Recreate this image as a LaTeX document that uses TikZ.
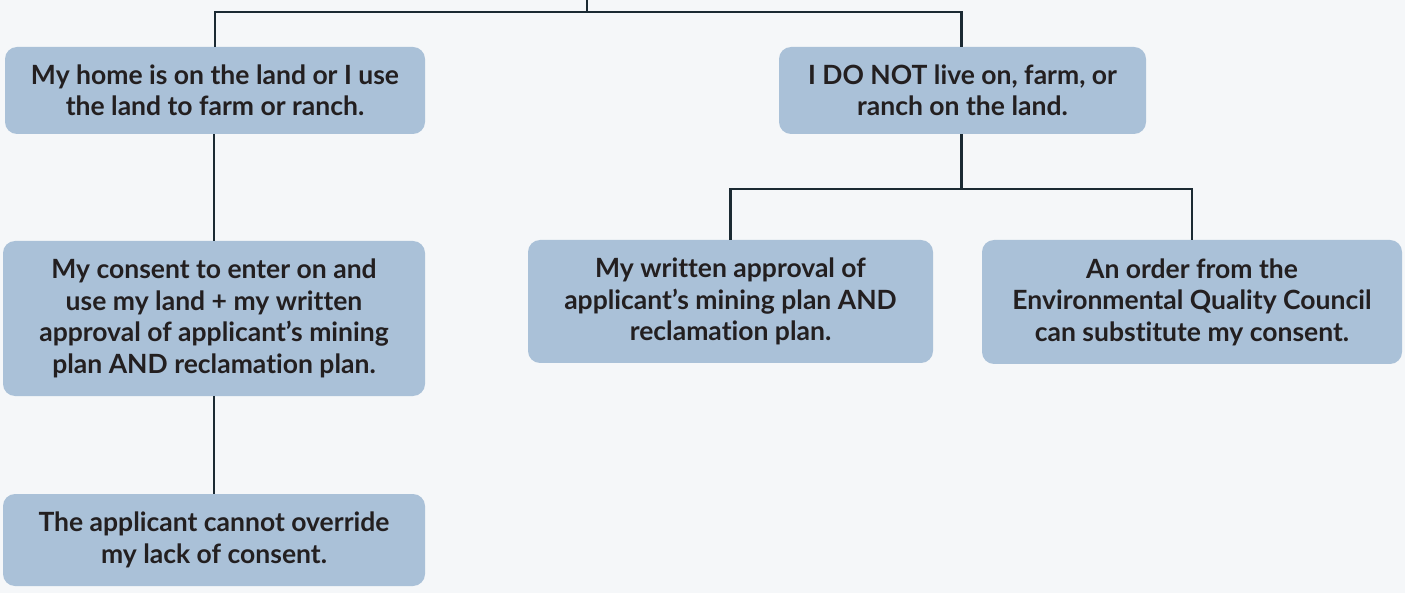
\documentclass[tikz,border=0pt]{standalone}
\usepackage{fontspec}
\setmainfont{Lato}[Ligatures={NoCommon}]
\definecolor{bg}{HTML}{F5F7F9}
\definecolor{boxfill}{HTML}{AAC1D8}
\definecolor{linec}{HTML}{1B2A33}
\definecolor{txt}{HTML}{231F20}
\begin{document}
\begin{tikzpicture}[x=1pt,y=-1pt,
  box/.style={fill=boxfill, rounded corners=12pt, inner sep=0pt, align=center,
    text=txt, font=\fontsize{26.5}{31.5}\selectfont\bfseries},
  conn/.style={draw=linec, line width=2.4pt}]
\fill[bg] (0,0) rectangle (1405,593);
\useasboundingbox (0,0) rectangle (1405,593);
\node[box, minimum width=420pt, minimum height=87pt] (A) at (215,90.5)
  {My home is on the land or I use\\the land to farm or ranch.};
\node[box, minimum width=367pt, minimum height=87pt] (B) at (962.5,90.5)
  {I DO NOT live on, farm, or\\ranch on the land.};
\node[box, minimum width=422pt, minimum height=155pt] (C) at (214,318.5)
  {My consent to enter on and\\use my land + my written\\approval of applicant’s mining\\plan AND reclamation plan.};
\node[box, minimum width=422pt, minimum height=92pt] (D) at (214,540)
  {The applicant cannot override\\my lack of consent.};
\node[box, minimum width=405pt, minimum height=123pt] (E) at (730.5,301.5)
  {My written approval of\\applicant’s mining plan AND\\reclamation plan.};
\node[box, minimum width=420pt, minimum height=124pt] (F) at (1192,302)
  {An order from the\\Environmental Quality Council\\can substitute my consent.};
\coordinate (top) at (587,0);
\coordinate (bar) at (587,12);
\coordinate (split) at (961.5,189);
\draw[conn] (top) -- (bar);
\draw[conn] (bar) -| (A.north);
\draw[conn] (bar) -| ([xshift=-1pt]B.north);
\draw[conn] ([xshift=-1pt]A.south) -- ([xshift=-1pt]A.south |- C.north);
\draw[conn] (C.south) -- (D.north);
\draw[conn] (B.south -| split) -- (split);
\draw[conn] (split) -| (E.north);
\draw[conn] (split) -| (F.north);
\end{tikzpicture}
\end{document}
